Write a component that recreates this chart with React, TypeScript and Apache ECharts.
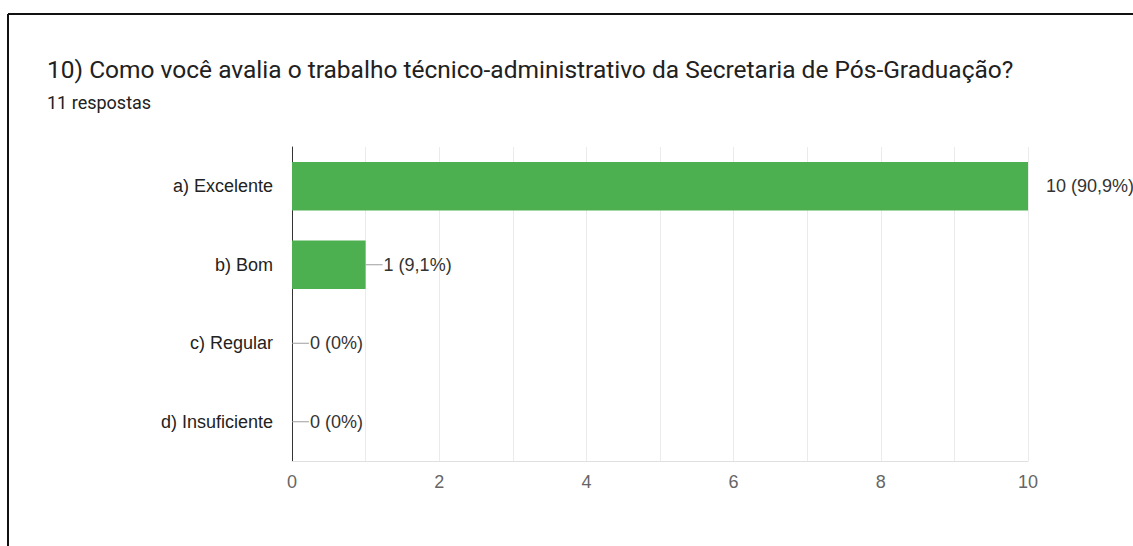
import React, { useEffect, useRef } from "react";
import * as echarts from "echarts";

const categories = ["a) Excelente", "b) Bom", "c) Regular", "d) Insuficiente"];
const counts = [10, 1, 0, 0];
const percentLabels = ["90,9%", "9,1%", "0%", "0%"];
const titleText = "10) Como você avalia o trabalho técnico-administrativo da Secretaria de Pós-Graduação?";
const subtitleText = "11 respostas";

export default function App() {
  const ref = useRef<HTMLDivElement>(null);
  useEffect(() => {
    if (!ref.current) return;
    const chart = echarts.init(ref.current, null, { renderer: "svg" });
    const font = "Roboto, Arial, sans-serif";
    const chartFont = "'Liberation Sans', Arial, sans-serif";
    chart.setOption({
      animation: false,
      backgroundColor: "#ffffff",
      textStyle: { fontFamily: chartFont },
      graphic: [
        { type: "line", shape: { x1: 8, y1: 14, x2: 1133, y2: 14 }, style: { stroke: "#111", lineWidth: 2 } },
        { type: "line", shape: { x1: 8, y1: 14, x2: 8, y2: 546 }, style: { stroke: "#111", lineWidth: 2 } },
        {
          type: "text", x: 47, y: 69,
          style: { text: titleText, fill: "#212121", font: `24.5px ${font}`, verticalAlign: "middle" },
        },
        {
          type: "text", x: 47, y: 102,
          style: { text: subtitleText, fill: "#212121", font: `18px ${font}`, verticalAlign: "middle" },
        },
      ],
      grid: { left: 292, right: 105, top: 147, bottom: 85, containLabel: false },
      xAxis: {
        type: "value",
        min: 0,
        max: 10,
        interval: 1,
        axisLine: { show: true, lineStyle: { color: "#e0e0e0", width: 1 } },
        axisTick: { show: false },
        splitLine: { show: true, lineStyle: { color: "#ebebeb", width: 1 } },
        axisLabel: {
          color: "#666666",
          fontSize: 18,
          margin: 12,
          fontFamily: chartFont,
          formatter: (v: number) => (v % 2 === 0 ? String(v) : ""),
        },
      },
      yAxis: {
        type: "category",
        data: categories,
        inverse: true,
        axisLine: { show: true, onZero: false, lineStyle: { color: "#333333", width: 1 } },
        axisTick: { show: false },
        axisLabel: { color: "#222222", fontSize: 18, margin: 19, fontFamily: chartFont },
      },
      series: [
        {
          type: "bar",
          data: counts,
          barCategoryGap: "38%",
          itemStyle: { color: "#4caf50" },
          label: {
            show: true,
            position: "right",
            distance: 18,
            color: "#333333",
            fontSize: 18,
            fontFamily: chartFont,
            formatter: (p: any) => `${counts[p.dataIndex]} (${percentLabels[p.dataIndex]})`,
          },
          z: 2,
        },
        {
          type: "custom",
          clip: true,
          data: counts.map((v, i) => [v, i]),
          renderItem: (params: any, api: any) => {
            const p = api.coord([api.value(0), api.value(1)]);
            return {
              type: "line",
              shape: { x1: p[0], y1: p[1], x2: p[0] + 17, y2: p[1] },
              style: { stroke: "#9e9e9e", lineWidth: 1 },
            };
          },
          z: 3,
        },
      ],
    });
    return () => chart.dispose();
  }, []);
  return (
    <div
      ref={ref}
      style={{ position: "fixed", left: 0, top: 0, width: 1133, height: 546 }}
    />
  );
}
